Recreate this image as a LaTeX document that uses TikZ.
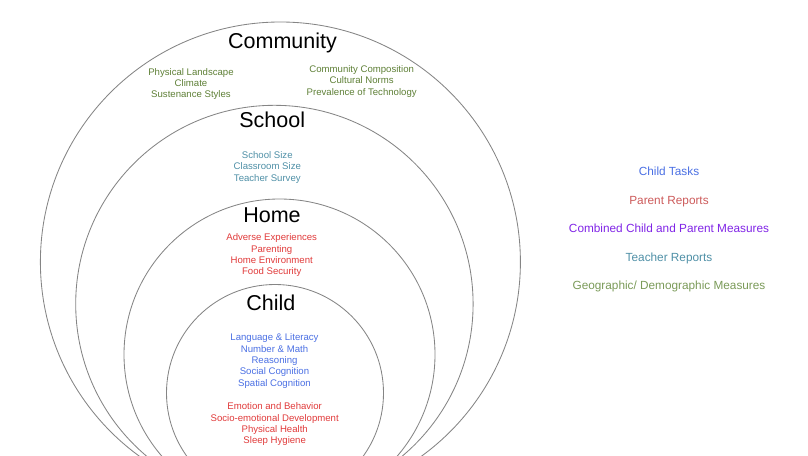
\documentclass[tikz,border=0pt]{standalone}
\usepackage{fontspec}
\setmainfont{Liberation Sans}
\definecolor{taskblue}{HTML}{4A6FE3}
\definecolor{parentred}{HTML}{E03A3A}
\definecolor{keyred}{HTML}{CC5A5A}
\definecolor{combpurple}{HTML}{8024E6}
\definecolor{teacherteal}{HTML}{4E8FA6}
\definecolor{geogreen}{HTML}{5E7F36}
\definecolor{keygreen}{HTML}{7A9A58}

\begin{document}
\begin{tikzpicture}[x=1pt, y=-1pt,
    ring/.style={draw=black!48, line width=0.85pt},
    title/.style={anchor=base, font=\fontsize{21.5}{24}\selectfont},
    items/.style={anchor=base, align=center, font=\fontsize{9.6}{11.33}\selectfont},
    key/.style={anchor=base, font=\fontsize{11.8}{13}\selectfont}]
    \useasboundingbox (0,0) rectangle (808,455);
    \clip (0,0) rectangle (808,455);

    % 绘制嵌套的圆
    \foreach \cx/\cy/\r in {
        280.4/262/240,
        274.4/304/198.7,
        279.5/354.5/155.5,
        275/393/108.5%
    } {
        \draw[ring] (\cx,\cy) circle (\r);
    }

    % 各层标题
    \node[title] (community) at (282.5,48.3) {Community};
    \node[title] (school) at (272.2,127.3) {School};
    \node[title] (home) at (272,222.7) {Home};
    \node[title] (child) at (270.8,310.7) {Child};

    % 社区层的测量 (锚点在最后一行的基线)
    \node[items, geogreen] (landscape) at (191,97.7) {Physical Landscape\\Climate\\Sustenance Styles};
    \node[items, geogreen] (composition) at (361.7,95) {Community Composition\\Cultural Norms\\Prevalence of Technology};

    % 学校层的测量
    \node[items, teacherteal] (schoolsize) at (267.3,181) {School Size\\Classroom Size\\Teacher Survey};

    % 家庭层的测量
    \node[items, parentred] (adverse) at (271.7,274.7) {Adverse Experiences\\Parenting\\Home Environment\\Food Security};

    % 儿童层的测量
    \node[items, taskblue] (language) at (274.5,386) {Language \& Literacy\\Number \& Math\\Reasoning\\Social Cognition\\Spatial Cognition};
    \node[items, parentred] (emotion) at (274.7,443.7) {Emotion and Behavior\\Socio-emotional Development\\Physical Health\\Sleep Hygiene};

    % 图例
    \foreach \y/\c/\t [count=\i] in {
        175/taskblue/{Child Tasks},
        204/keyred/{Parent Reports},
        232.3/combpurple/{Combined Child and Parent Measures},
        261/teacherteal/{Teacher Reports},
        289/keygreen/{Geographic/ Demographic Measures}%
    } {
        \node[key, \c] (key\i) at (669,\y) {\t};
    }

\end{tikzpicture}
\end{document}
